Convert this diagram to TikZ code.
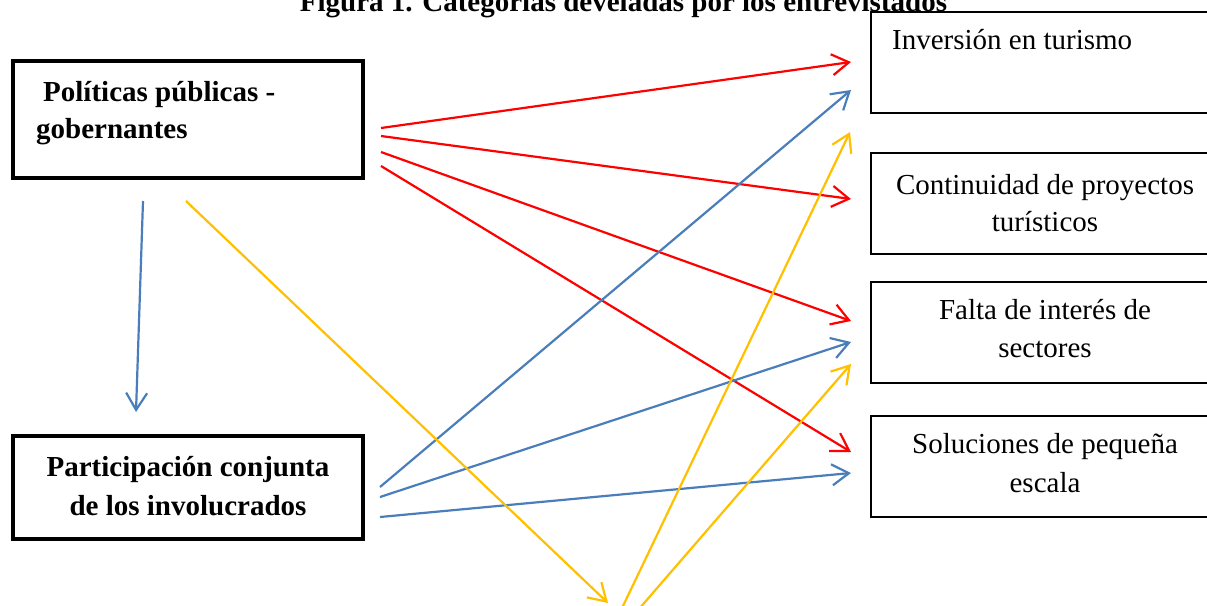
\documentclass[tikz,border=0pt]{standalone}
\usepackage{fontspec}
\setmainfont{Liberation Serif}
\usetikzlibrary{arrows.meta}
\definecolor{cred}{HTML}{FF0000}
\definecolor{cblue}{HTML}{4A7EBB}
\definecolor{cyel}{HTML}{FFC000}
\begin{document}
\begin{tikzpicture}[x=1pt,y=-1pt,
  txt/.style={anchor=base,inner sep=0pt,font=\fontsize{29}{38}\selectfont},
  btxt/.style={txt,font=\fontsize{29}{38}\selectfont\bfseries},
  bigbox/.style={draw=black,line width=3.5pt,rectangle,inner sep=0pt},
  catbox/.style={draw=black,line width=2pt,rectangle,inner sep=0pt,minimum width=349pt,minimum height=101pt},
  arr/.style={line width=2.2pt,-{Straight Barb[length=17pt,width=21pt]}},
  redarr/.style={arr,draw=cred},
  bluearr/.style={arr,draw=cblue},
  yelarr/.style={arr,draw=cyel},
  yelline/.style={line width=2.2pt,draw=cyel}]
\clip (0,0) rectangle (1207,605);
\fill[white] (0,0) rectangle (1207,605);

% title
\node[btxt] (title) at (623.5,12) {Figura 1. Categorías develadas por los entrevistados};

% left boxes
\node[bigbox,minimum width=350pt,minimum height=117pt] (pol) at (188,119.5) {};
\node[btxt,anchor=base west] (pol1) at (43,101) {Políticas públicas -};
\node[btxt,anchor=base west] (pol2) at (36,138) {gobernantes};

\node[bigbox,minimum width=350pt,minimum height=103pt] (par) at (188,487.5) {};
\node[btxt] (par1) at (188,476) {Participación conjunta};
\node[btxt] (par2) at (188,515) {de los involucrados};

% right boxes
\node[catbox] (inv) at (1045.5,62.5) {};
\node[txt,anchor=base west] (inv1) at (892,49) {Inversión en turismo};

\node[catbox] (con) at (1045.5,203) {};
\node[txt] (con1) at (1045,194) {Continuidad de proyectos};
\node[txt] (con2) at (1045,231) {turísticos};

\node[catbox] (fal) at (1045.5,332.5) {};
\node[txt] (fal1) at (1045,319) {Falta de interés de};
\node[txt] (fal2) at (1045,357) {sectores};

\node[catbox] (sol) at (1045.5,466) {};
\node[txt] (sol1) at (1045,453) {Soluciones de pequeña};
\node[txt] (sol2) at (1045,492) {escala};

% connector end points
\coordinate (r1s) at (381,128); \coordinate (r1e) at (851,62);
\coordinate (r2s) at (381,136); \coordinate (r2e) at (851,199);
\coordinate (r3s) at (381,152); \coordinate (r3e) at (851,321);
\coordinate (r4s) at (381,166); \coordinate (r4e) at (851,452);

\coordinate (b0s) at (143,201); \coordinate (b0e) at (136,412);
\coordinate (b1s) at (380,487); \coordinate (b1e) at (851,90);
\coordinate (b2s) at (380,497); \coordinate (b2e) at (851,342);
\coordinate (b3s) at (380,517); \coordinate (b3e) at (851,473);

\coordinate (y1s) at (186,201); \coordinate (y1e) at (608,603);
\coordinate (ybot) at (600,654);
\coordinate (y2e) at (850,132);
\coordinate (y3e) at (851,364);

% red
\draw[redarr] (r1s) -- (r1e);
\draw[redarr] (r2s) -- (r2e);
\draw[redarr] (r3s) -- (r3e);
\draw[redarr] (r4s) -- (r4e);

% blue
\draw[bluearr] (b0s) -- (b0e);
\draw[bluearr] (b1s) -- (b1e);
\draw[bluearr] (b2s) -- (b2e);
\draw[bluearr] (b3s) -- (b3e);

% yellow
\draw[yelarr] (y1s) -- (y1e);
\draw[yelarr] (ybot) -- (y2e);
\draw[yelarr] (ybot) -- (y3e);
\end{tikzpicture}
\end{document}
